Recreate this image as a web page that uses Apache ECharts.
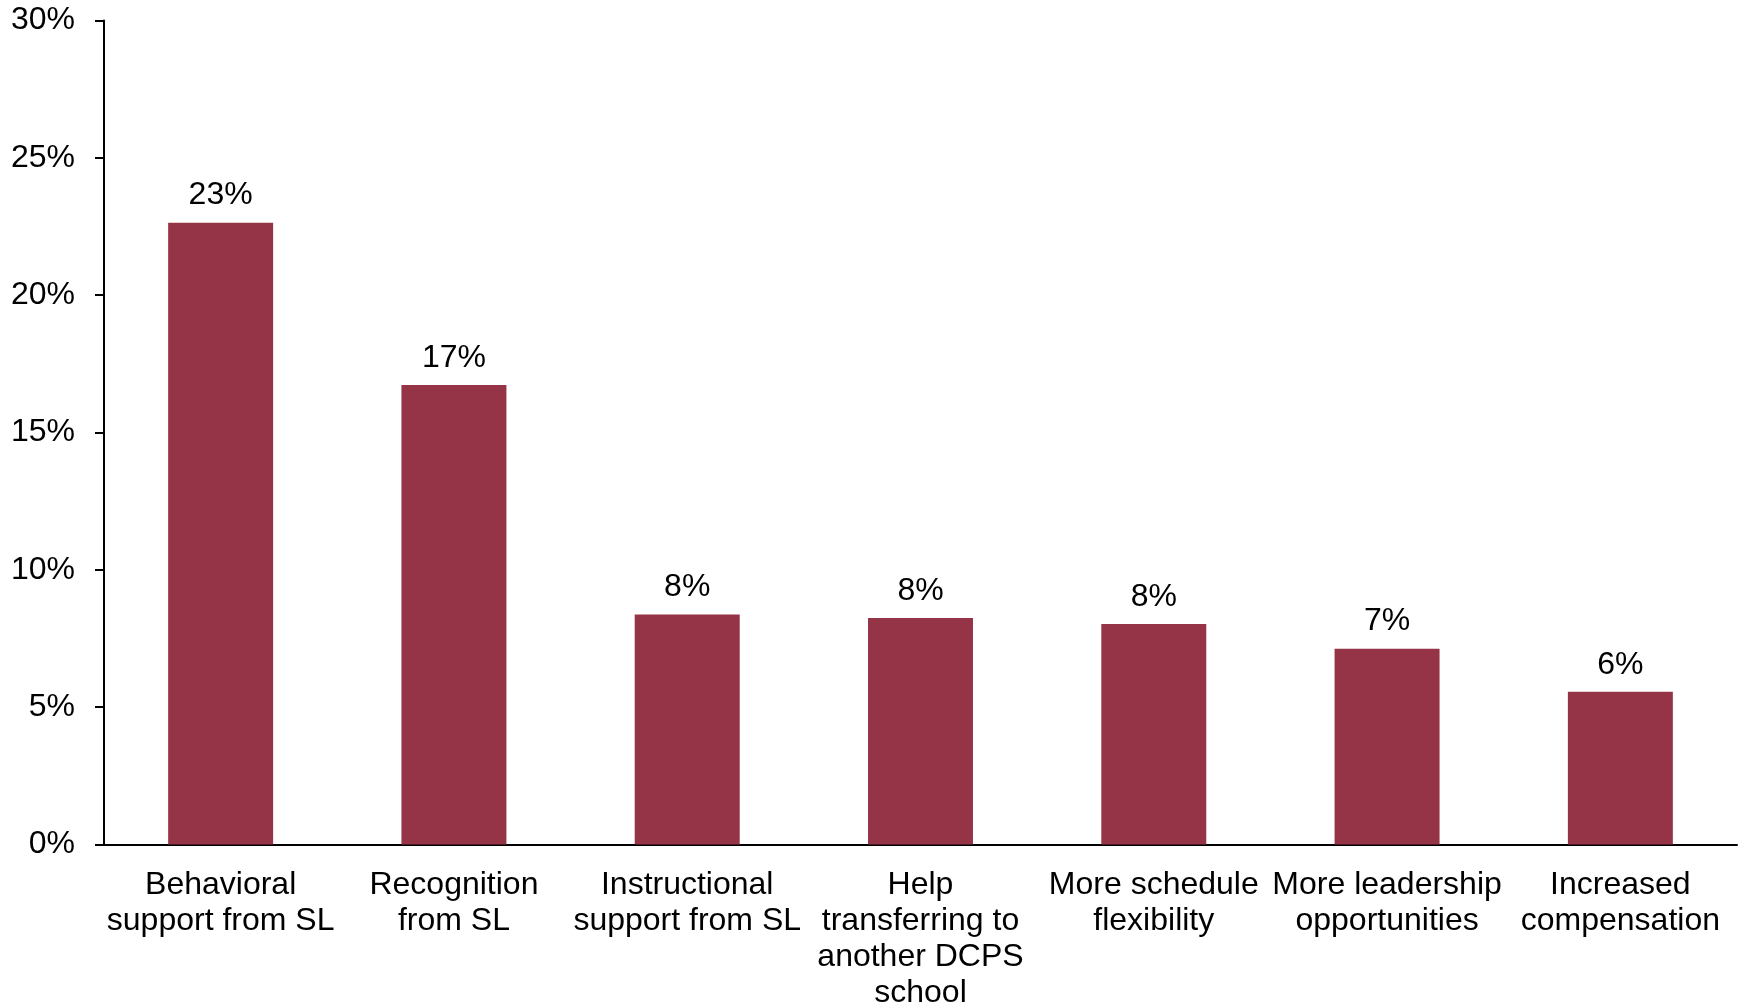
<!DOCTYPE html>
<html>
<head>
<meta charset="utf-8">
<script src="https://cdn.jsdelivr.net/npm/echarts@6/dist/echarts.min.js"></script>
<style>
  html, body { margin: 0; padding: 0; background: #fff; }
  #chart { width: 1742px; height: 1006px; }
</style>
</head>
<body>
<div id="chart"></div>
<script>
// Share of responses by type of support
const categories = [
  'Behavioral\nsupport from SL',
  'Recognition\nfrom SL',
  'Instructional\nsupport from SL',
  'Help\ntransferring to\nanother DCPS\nschool',
  'More schedule\nflexibility',
  'More leadership\nopportunities',
  'Increased\ncompensation'
];
const values = [22.64, 16.73, 8.37, 8.25, 8.03, 7.13, 5.56];
const valueLabels = ['23%', '17%', '8%', '8%', '8%', '7%', '6%'];

const FONT = '"Liberation Sans", Arial, sans-serif';

const chart = echarts.init(document.getElementById('chart'));
chart.setOption({
  animation: false,
  backgroundColor: '#ffffff',
  grid: {
    left: 104, right: 5, top: 20.5, bottom: 161.5,
    containLabel: false,
    outerBoundsMode: 'none'
  },
  xAxis: {
    type: 'category',
    data: categories,
    axisLine: { lineStyle: { color: '#000', width: 2 } },
    axisTick: { show: false },
    axisLabel: {
      interval: 0,
      margin: 23,
      color: '#000',
      fontFamily: FONT,
      fontSize: 32,
      lineHeight: 36
    }
  },
  yAxis: {
    type: 'value',
    min: 0,
    max: 30,
    interval: 5,
    splitLine: { show: false },
    axisLine: { show: true, lineStyle: { color: '#000', width: 2 } },
    axisTick: { show: true, length: 9, lineStyle: { color: '#000', width: 2 } },
    axisLabel: {
      margin: 29,
      color: '#000',
      fontFamily: FONT,
      fontSize: 32,
      formatter: v => v + '%'
    }
  },
  series: [{
    type: 'bar',
    data: values,
    barWidth: '45%',
    itemStyle: { color: '#953446' },
    label: {
      show: true,
      position: 'top',
      distance: 11,
      color: '#000',
      fontFamily: FONT,
      fontSize: 32,
      formatter: p => valueLabels[p.dataIndex]
    }
  }]
});
</script>
</body>
</html>
